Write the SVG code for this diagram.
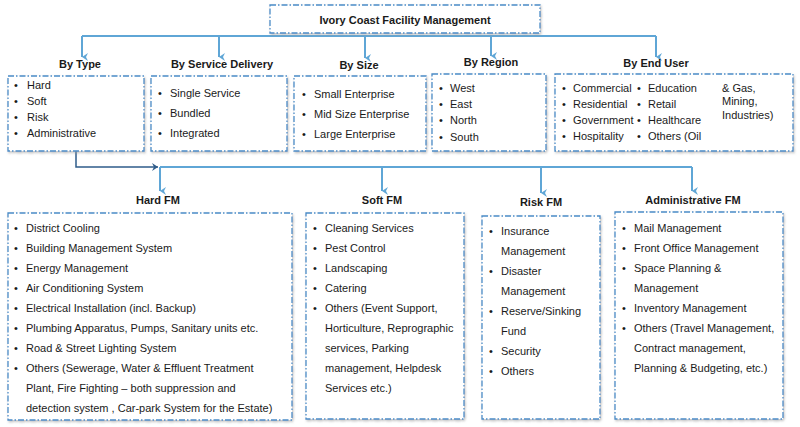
<svg xmlns="http://www.w3.org/2000/svg" width="800" height="427" viewBox="0 0 800 427">
<defs>
<marker id="ah" markerWidth="8" markerHeight="8" refX="4" refY="6" orient="auto" markerUnits="userSpaceOnUse" viewBox="0 0 8 8">
<path d="M0,0 L4,6 L8,0 L4,2 Z" fill="#5fa6d6"/>
</marker>
<marker id="ahd" markerWidth="8" markerHeight="8" refX="6" refY="4" orient="auto" markerUnits="userSpaceOnUse" viewBox="0 0 8 8">
<path d="M0,0 L6,4 L0,8 L2,4 Z" fill="#2f5c8a"/>
</marker>
<filter id="sh" x="-5%" y="-5%" width="110%" height="115%">
<feDropShadow dx="1" dy="1.5" stdDeviation="1" flood-color="#999" flood-opacity="0.6"/>
</filter>
</defs>
<style>
.box{fill:#fff;stroke:#4a8cc7;stroke-width:1.3;stroke-dasharray:6 2 1.5 2;filter:url(#sh)}
.t{font-family:"Liberation Sans",Arial,sans-serif;font-size:11px;fill:#1a1a1a}
.h{font-family:"Liberation Sans",Arial,sans-serif;font-size:11px;font-weight:bold;fill:#1a1a1a;text-anchor:middle}
.c{fill:none;stroke:#5fa6d6;stroke-width:2}
</style>
<rect width="800" height="427" fill="#fff"/>

<g id="connectors">
<path class="c" d="M82,36 H656"/>
<path class="c" d="M82,36 V57" marker-end="url(#ah)"/>
<path class="c" d="M219,36 V57" marker-end="url(#ah)"/>
<path class="c" d="M365,36 V58" marker-end="url(#ah)"/>
<path class="c" d="M491,36 V56" marker-end="url(#ah)"/>
<path class="c" d="M656,36 V57" marker-end="url(#ah)"/>
<path d="M76,151 V167 H158" fill="none" stroke="#2f5c8a" stroke-width="1.5" marker-end="url(#ahd)"/>
<path class="c" d="M160,167 H692"/>
<path class="c" d="M160,167 V191" marker-end="url(#ah)"/>
<path class="c" d="M382,167 V191" marker-end="url(#ah)"/>
<path class="c" d="M541,167 V193" marker-end="url(#ah)"/>
<path class="c" d="M692,167 V191" marker-end="url(#ah)"/>
</g>

<g id="title">
<rect class="box" x="270" y="5" width="270" height="28"/>
<text class="h" x="405" y="24">Ivory Coast Facility Management</text>
</g>

<g id="by-type">
<text class="h" x="80" y="68">By Type</text>
<rect class="box" x="8" y="76" width="136" height="75"/>
<text class="t" x="14" y="89">•</text><text class="t" x="27" y="89">Hard</text>
<text class="t" x="14" y="105">•</text><text class="t" x="27" y="105">Soft</text>
<text class="t" x="14" y="121">•</text><text class="t" x="27" y="121">Risk</text>
<text class="t" x="14" y="137">•</text><text class="t" x="27" y="137">Administrative</text>
</g>

<g id="by-service-delivery">
<text class="h" x="222" y="68">By Service Delivery</text>
<rect class="box" x="151" y="76" width="136" height="75"/>
<text class="t" x="158" y="97">•</text><text class="t" x="170" y="97">Single Service</text>
<text class="t" x="158" y="117">•</text><text class="t" x="170" y="117">Bundled</text>
<text class="t" x="158" y="137">•</text><text class="t" x="170" y="137">Integrated</text>
</g>

<g id="by-size">
<text class="h" x="359" y="69">By Size</text>
<rect class="box" x="294" y="76" width="132" height="75"/>
<text class="t" x="302" y="98">•</text><text class="t" x="314" y="98">Small Enterprise</text>
<text class="t" x="302" y="118">•</text><text class="t" x="314" y="118">Mid Size Enterprise</text>
<text class="t" x="302" y="138">•</text><text class="t" x="314" y="138">Large Enterprise</text>
</g>

<g id="by-region">
<text class="h" x="491" y="66">By Region</text>
<rect class="box" x="432" y="74" width="114" height="77"/>
<text class="t" x="439" y="92">•</text><text class="t" x="450" y="92">West</text>
<text class="t" x="439" y="108">•</text><text class="t" x="450" y="108">East</text>
<text class="t" x="439" y="124">•</text><text class="t" x="450" y="124">North</text>
<text class="t" x="439" y="141">•</text><text class="t" x="450" y="141">South</text>
</g>

<g id="by-end-user">
<text class="h" x="656" y="67">By End User</text>
<rect class="box" x="555" y="74" width="238" height="77"/>
<text class="t" x="562" y="92">•</text><text class="t" x="573" y="92">Commercial</text>
<text class="t" x="562" y="108">•</text><text class="t" x="573" y="108">Residential</text>
<text class="t" x="562" y="124">•</text><text class="t" x="573" y="124">Government</text>
<text class="t" x="562" y="140">•</text><text class="t" x="573" y="140">Hospitality</text>
<text class="t" x="637" y="92">•</text><text class="t" x="648" y="92">Education</text>
<text class="t" x="637" y="108">•</text><text class="t" x="648" y="108">Retail</text>
<text class="t" x="637" y="124">•</text><text class="t" x="648" y="124">Healthcare</text>
<text class="t" x="637" y="140">•</text><text class="t" x="648" y="140">Others (Oil</text>
<text class="t" x="722" y="92">&amp; Gas,</text>
<text class="t" x="722" y="105">Mining,</text>
<text class="t" x="722" y="119">Industries)</text>
</g>

<g id="hard-fm">
<text class="h" x="158" y="204">Hard FM</text>
<rect class="box" x="8" y="213" width="284" height="207"/>
<text class="t" x="14" y="232">•</text><text class="t" x="26" y="232">District Cooling</text>
<text class="t" x="14" y="252">•</text><text class="t" x="26" y="252">Building Management System</text>
<text class="t" x="14" y="272">•</text><text class="t" x="26" y="272">Energy Management</text>
<text class="t" x="14" y="292">•</text><text class="t" x="26" y="292">Air Conditioning System</text>
<text class="t" x="14" y="312">•</text><text class="t" x="26" y="312">Electrical Installation (incl. Backup)</text>
<text class="t" x="14" y="332">•</text><text class="t" x="26" y="332">Plumbing Apparatus, Pumps, Sanitary units etc.</text>
<text class="t" x="14" y="352">•</text><text class="t" x="26" y="352">Road &amp; Street Lighting System</text>
<text class="t" x="14" y="372">•</text><text class="t" x="26" y="372">Others (Sewerage, Water &amp; Effluent Treatment</text>
<text class="t" x="26" y="392">Plant, Fire Fighting – both suppression and</text>
<text class="t" x="26" y="412">detection system , Car-park System for the Estate)</text>
</g>

<g id="soft-fm">
<text class="h" x="382" y="204">Soft FM</text>
<rect class="box" x="306" y="213" width="158" height="206"/>
<text class="t" x="313" y="232">•</text><text class="t" x="325" y="232">Cleaning Services</text>
<text class="t" x="313" y="252">•</text><text class="t" x="325" y="252">Pest Control</text>
<text class="t" x="313" y="272">•</text><text class="t" x="325" y="272">Landscaping</text>
<text class="t" x="313" y="292">•</text><text class="t" x="325" y="292">Catering</text>
<text class="t" x="313" y="312">•</text><text class="t" x="325" y="312">Others (Event Support,</text>
<text class="t" x="325" y="332">Horticulture, Reprographic</text>
<text class="t" x="325" y="352">services, Parking</text>
<text class="t" x="325" y="372">management, Helpdesk</text>
<text class="t" x="325" y="392">Services etc.)</text>
</g>

<g id="risk-fm">
<text class="h" x="541" y="206">Risk FM</text>
<rect class="box" x="482" y="216" width="118" height="203"/>
<text class="t" x="489" y="235">•</text><text class="t" x="501" y="235">Insurance</text>
<text class="t" x="501" y="255">Management</text>
<text class="t" x="489" y="275">•</text><text class="t" x="501" y="275">Disaster</text>
<text class="t" x="501" y="295">Management</text>
<text class="t" x="489" y="315">•</text><text class="t" x="501" y="315">Reserve/Sinking</text>
<text class="t" x="501" y="335">Fund</text>
<text class="t" x="489" y="355">•</text><text class="t" x="501" y="355">Security</text>
<text class="t" x="489" y="375">•</text><text class="t" x="501" y="375">Others</text>
</g>

<g id="administrative-fm">
<text class="h" x="693" y="204">Administrative FM</text>
<rect class="box" x="615" y="212" width="168" height="207"/>
<text class="t" x="622" y="232">•</text><text class="t" x="634" y="232">Mail Management</text>
<text class="t" x="622" y="252">•</text><text class="t" x="634" y="252">Front Office Management</text>
<text class="t" x="622" y="272">•</text><text class="t" x="634" y="272">Space Planning &amp;</text>
<text class="t" x="634" y="292">Management</text>
<text class="t" x="622" y="312">•</text><text class="t" x="634" y="312">Inventory Management</text>
<text class="t" x="622" y="332">•</text><text class="t" x="634" y="332">Others (Travel Management,</text>
<text class="t" x="634" y="352">Contract management,</text>
<text class="t" x="634" y="372">Planning &amp; Budgeting, etc.)</text>
</g>
</svg>
